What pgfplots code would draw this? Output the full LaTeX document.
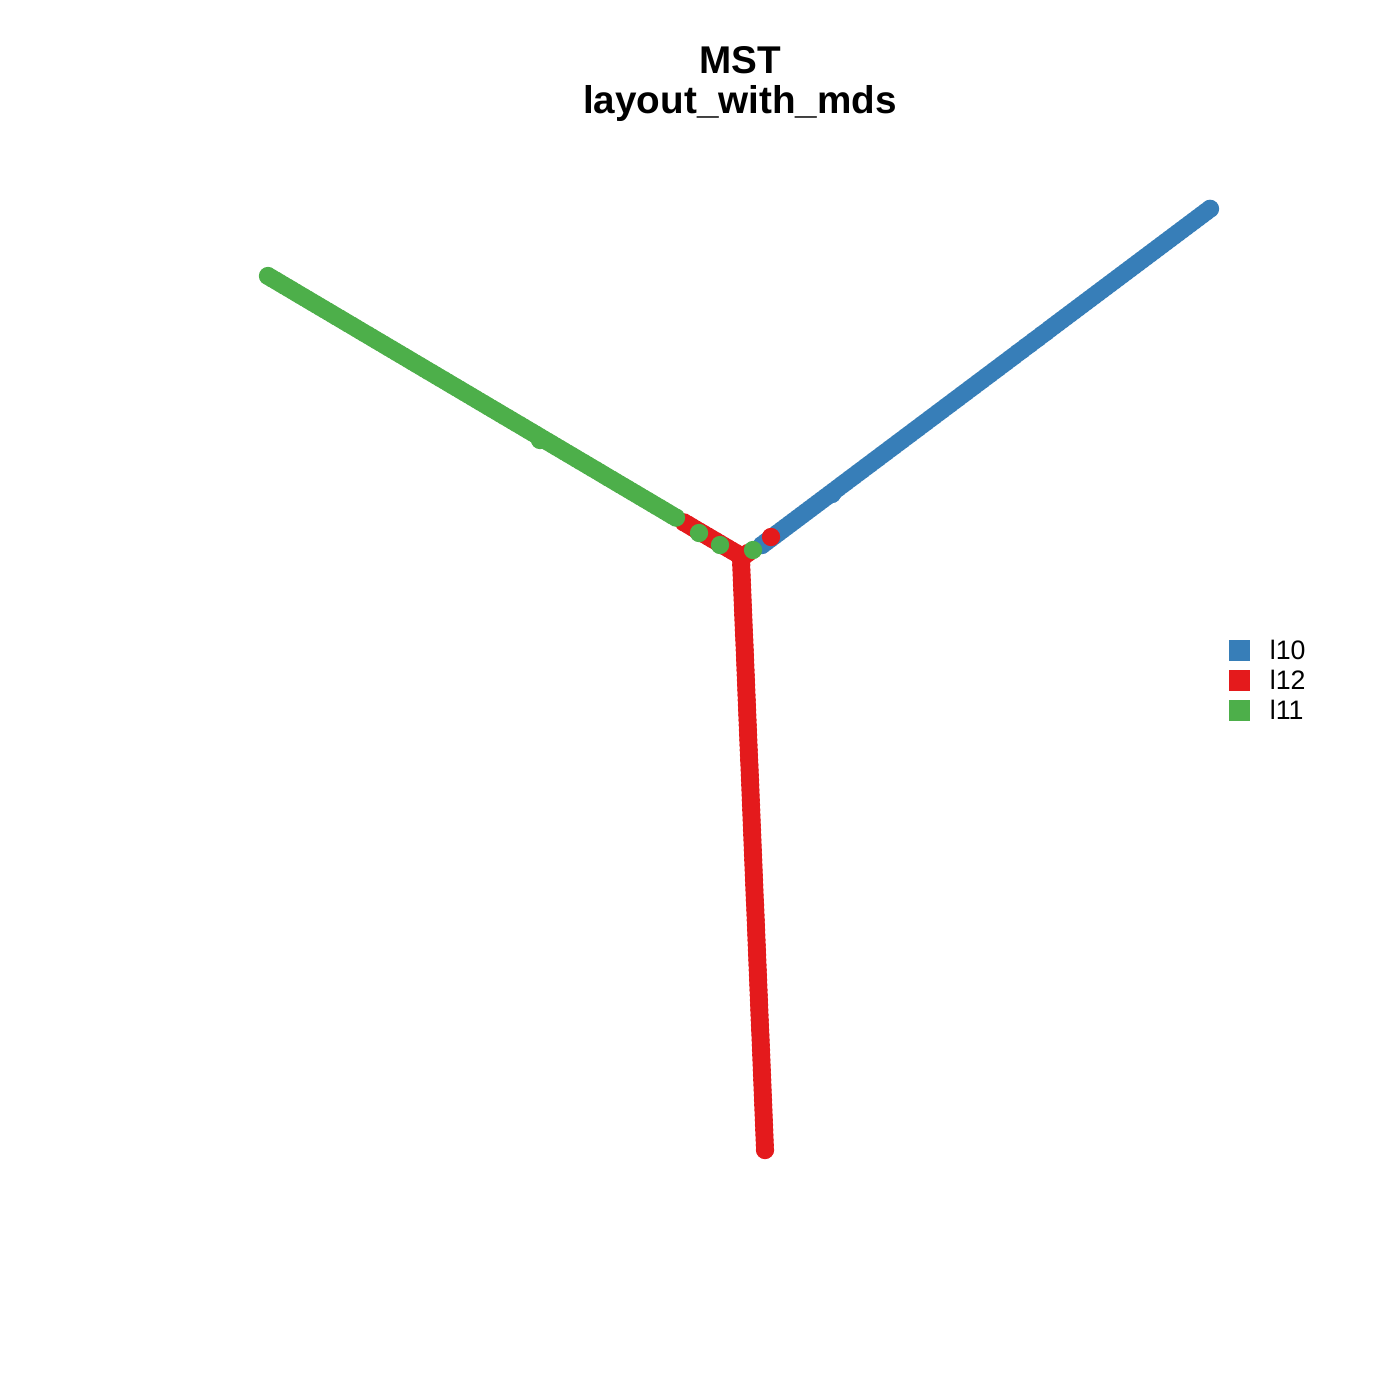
\documentclass[border=0pt]{standalone}
\usepackage{fontspec}
\setmainfont{Liberation Sans}
\usepackage{pgfplots}
\pgfplotsset{compat=1.18}
\definecolor{cblue}{HTML}{377EB8}
\definecolor{cred}{HTML}{E41A1C}
\definecolor{cgreen}{HTML}{4DAF4A}
\begin{document}
\begin{tikzpicture}
\begin{axis}[
  scale only axis, width=14cm, height=14cm,
  xmin=0, xmax=1400, ymin=0, ymax=1400, y dir=reverse,
  hide axis, clip=false,
  legend style={at={(axis cs:1228,638)}, anchor=north west, draw=none, fill=none,
    font=\fontsize{7.6}{8}\selectfont, row sep=0pt, column sep=5.6pt, inner sep=0pt,
    nodes={inner sep=0pt, text height=6pt, text depth=2.5pt},
    cells={anchor=west}},
  legend cell align=left,
]
\path (axis cs:0,0) rectangle (axis cs:1400,1400);
% blue (l10)
\addplot[color=cblue, fill=cblue, only marks, mark=*, mark size=2.45pt, line width=0.3pt,
  legend image code/.code={\fill[cblue] (0pt,-1.9pt) rectangle (5.8pt,3.7pt);}]
 coordinates {
(762,545.0)(770,539.0)(778,533.0)(786,527.0)(794,521.0)(802,515.0)(810,509.0)(818,503.0)
(826,497.0)(834,491.0)(832,494.0)(842,484.9)(850,478.9)(858,472.9)(866,466.9)(874,460.9)
(882,454.9)(890,448.9)(898,442.9)(906,436.9)(914,430.9)(922,424.9)(930,418.9)(938,412.9)
(946,406.9)(954,400.9)(962,394.9)(970,388.9)(978,382.9)(986,376.9)(994,370.9)(1002,364.9)
(1010,358.9)(1018,352.8)(1026,346.8)(1034,340.8)(1042,334.8)(1050,328.8)(1058,322.8)
(1066,316.8)(1074,310.8)(1082,304.8)(1090,298.8)(1098,292.8)(1106,286.8)(1114,280.8)
(1122,274.8)(1130,268.8)(1138,262.8)(1146,256.8)(1154,250.8)(1162,244.8)(1170,238.8)
(1178,232.8)(1186,226.8)(1194,220.8)(1202,214.8)(1210,208.8)
(766,542)(774,536)(782,530)(790,524)(798,518)(806,512)(814,506)(822,500)(830,494)(838,488)
(846,482)(854,476)(862,470)(870,464)(878,458)(886,452)(894,446)(902,440)(910,434)(918,428)
(926,422)(934,416)(942,410)(950,404)(958,398)(966,392)(974,386)(982,380)(990,374)(998,368)
(1006,362)(1014,356)(1022,350)(1030,344)(1038,338)(1046,332)(1054,325.8)(1062,319.8)
(1070,313.8)(1078,307.8)(1086,301.8)(1094,295.8)(1102,289.8)(1110,283.8)(1118,277.8)
(1126,271.8)(1134,265.8)(1142,259.8)(1150,253.8)(1158,247.8)(1166,241.8)(1174,235.8)
(1182,229.8)(1190,223.8)(1198,217.8)(1206,211.8)
};
\addlegendentry{l10}
% red (l12)
\addplot[color=cred, fill=cred, only marks, mark=*, mark size=2.45pt, line width=0.3pt,
  legend image code/.code={\fill[cred] (0pt,-1.9pt) rectangle (5.8pt,3.7pt);}]
 coordinates {
(684,522.4)(688,524.7)(692,527.1)(696,529.5)(700,531.8)(704,534.2)(708,536.5)(712,538.9)
(716,541.2)(720,543.6)(724,546.0)(728,548.3)(732,550.7)(736,553.0)(740,555.4)(748,553)(744,556)
(771,537)
(741.0,560)(741.2,565)(741.4,570)(741.6,575)(741.8,580)(742.0,585)(742.2,590)(742.4,595)
(742.6,600)(742.8,605)(743.0,610)(743.2,615)(743.4,620)(743.6,625)(743.8,630)(744.0,635)
(744.3,640)(744.5,645)(744.7,650)(744.9,655)(745.1,660)(745.3,665)(745.5,670)(745.7,675)
(745.9,680)(746.1,685)(746.3,690)(746.5,695)(746.7,700)(746.9,705)(747.1,710)(747.3,715)
(747.5,720)(747.7,725)(747.9,730)(748.1,735)(748.3,740)(748.5,745)(748.7,750)(748.9,755)
(749.1,760)(749.4,765)(749.6,770)(749.8,775)(750.0,780)(750.2,785)(750.4,790)(750.6,795)
(750.8,800)(751.0,805)(751.2,810)(751.4,815)(751.6,820)(751.8,825)(752.0,830)(752.2,835)
(752.4,840)(752.6,845)(752.8,850)(753.0,855)(753.2,860)(753.4,865)(753.6,870)(753.8,875)
(754.0,880)(754.2,885)(754.4,890)(754.6,895)(754.8,900)(755.1,905)(755.3,910)(755.5,915)
(755.7,920)(755.9,925)(756.1,930)(756.3,935)(756.5,940)(756.7,945)(756.9,950)(757.1,955)
(757.3,960)(757.5,965)(757.7,970)(757.9,975)(758.1,980)(758.3,985)(758.5,990)(758.7,995)
(758.9,1000)(759.1,1005)(759.3,1010)(759.5,1015)(759.7,1020)(759.9,1025)(760.1,1030)
(760.4,1035)(760.6,1040)(760.8,1045)(761.0,1050)(761.2,1055)(761.4,1060)(761.6,1065)
(761.8,1070)(762.0,1075)(762.2,1080)(762.4,1085)(762.6,1090)(762.8,1095)(763.0,1100)
(763.2,1105)(763.4,1110)(763.6,1115)(763.8,1120)(764.0,1125)(764.2,1130)(764.4,1135)
(764.6,1140)(764.8,1145)(765.0,1150)
};
\addlegendentry{l12}
% green (l11)
\addplot[color=cgreen, fill=cgreen, only marks, mark=*, mark size=2.45pt, line width=0.3pt,
  legend image code/.code={\fill[cgreen] (0pt,-1.9pt) rectangle (5.8pt,3.7pt);}]
 coordinates {
(268,276.0)(276,280.7)(284,285.5)(292,290.2)(300,295.0)(308,299.7)(316,304.4)(324,309.2)
(332,313.9)(340,318.6)(348,323.4)(356,328.1)(364,332.9)(372,337.6)(380,342.3)(388,347.1)
(396,351.8)(404,356.5)(412,361.3)(420,366.0)(428,370.8)(436,375.5)(444,380.2)(452,385.0)
(460,389.7)(468,394.4)(476,399.2)(484,403.9)(492,408.7)(500,413.4)(508,418.1)(516,422.9)
(524,427.6)(532,432.3)(540,437.1)(540,440.0)(548,441.8)(556,446.6)(564,451.3)(572,456.0)
(580,460.8)(588,465.5)(596,470.2)(604,475.0)(612,479.7)(620,484.5)(628,489.2)(636,493.9)
(644,498.7)(652,503.4)(660,508.1)(668,512.9)(676,517.6)
(272,278.4)(280,283.1)(288,287.8)(296,292.6)(304,297.3)(312,302.1)(320,306.8)(328,311.5)
(336,316.3)(344,321.0)(352,325.7)(360,330.5)(368,335.2)(376,340.0)(384,344.7)(392,349.4)
(400,354.2)(408,358.9)(416,363.7)(424,368.4)(432,373.1)(440,377.9)(448,382.6)(456,387.3)
(464,392.1)(472,396.8)(480,401.6)(488,406.3)(496,411.0)(504,415.8)(512,420.5)(520,425.2)
(528,430.0)(536,434.7)(544,439.5)(552,444.2)(560,448.9)(568,453.7)(576,458.4)(584,463.1)
(592,467.9)(600,472.6)(608,477.4)(616,482.1)(624,486.8)(632,491.6)(640,496.3)(648,501.0)
(656,505.8)(664,510.5)(672,515.3)
(699,533)(720,545)(753,550)
};
\addlegendentry{l11}
\node[font=\bfseries\fontsize{11}{11.2}\selectfont, align=center, anchor=center]
  at (axis cs:740,84) {MST\\layout\_with\_mds};
\end{axis}
\end{tikzpicture}
\end{document}
